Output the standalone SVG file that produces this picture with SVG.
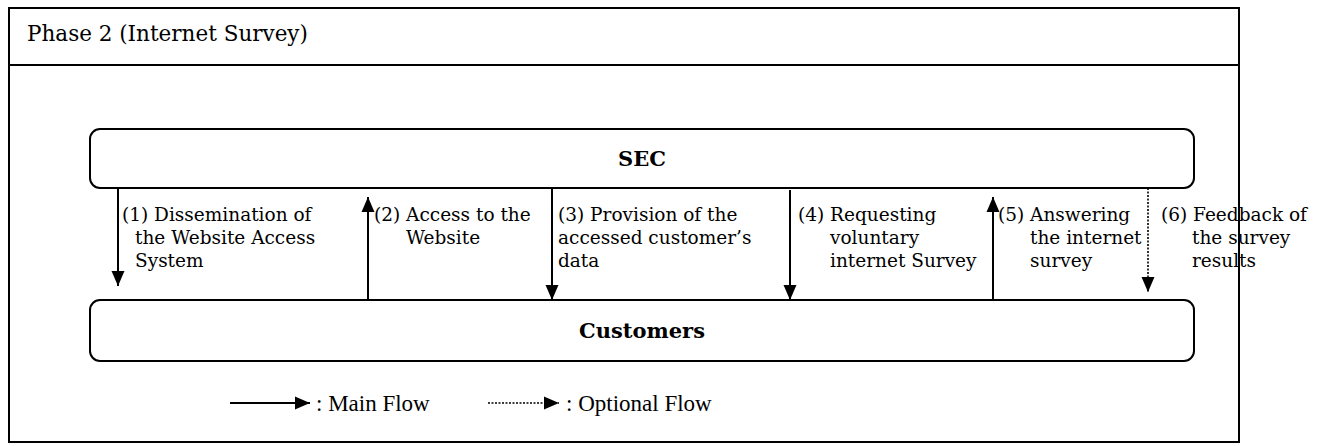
<svg xmlns="http://www.w3.org/2000/svg" width="1319" height="446" viewBox="0 0 1319 446">
  <style>
    .frame { fill: none; stroke: #000; stroke-width: 2; }
    .box { fill: #fff; stroke: #000; stroke-width: 2; }
    .title { font-family: "DejaVu Serif", "Liberation Serif", serif; font-size: 21.5px; fill: #000; }
    .name { font-family: "DejaVu Serif", "Liberation Serif", serif; font-size: 21px; font-weight: bold; fill: #000; text-anchor: middle; }
    .lbl { font-family: "DejaVu Serif", "Liberation Serif", serif; font-size: 18.5px; fill: #000; }
    .legend { font-family: "Liberation Serif", "Times New Roman", serif; font-size: 23px; fill: #000; }
    .main { stroke: #000; stroke-width: 2; fill: none; marker-end: url(#head); }
    .opt { stroke: #000; stroke-width: 1.6; stroke-dasharray: 2 1.5; fill: none; marker-end: url(#head); }
  </style>
  <defs>
    <marker id="head" markerUnits="userSpaceOnUse" markerWidth="15" markerHeight="14" viewBox="0 0 15 14" refX="15" refY="7" orient="auto">
      <path d="M0,0.5 L15,7 L0,13.5 Z" fill="#000"/>
    </marker>
  </defs>

  <!-- outer frame with title bar -->
  <g id="frame">
    <rect class="frame" x="9" y="8" width="1230" height="434"/>
    <line class="frame" x1="9" y1="65" x2="1239" y2="65"/>
    <text class="title" x="27" y="41">Phase 2 (Internet Survey)</text>
  </g>

  <g id="node-sec">
    <rect class="box" x="90" y="129" width="1104" height="59" rx="10"/>
    <text class="name" x="642" y="166">SEC</text>
  </g>

  <g id="node-customers">
    <rect class="box" x="90" y="300" width="1104" height="61" rx="10"/>
    <text class="name" x="642" y="338">Customers</text>
  </g>

  <g id="connectors">
    <line class="main" x1="118" y1="188" x2="118" y2="286"/>
    <line class="main" x1="368" y1="300" x2="368" y2="197"/>
    <line class="main" x1="552" y1="188" x2="552" y2="300"/>
    <line class="main" x1="790" y1="190" x2="790" y2="300"/>
    <line class="main" x1="993" y1="300" x2="993" y2="197"/>
    <line class="opt" x1="1148" y1="188" x2="1148" y2="292"/>
  </g>

  <g id="labels">
    <text class="lbl" x="122" y="221">(1) Dissemination of<tspan x="135" y="244">the Website Access</tspan><tspan x="135" y="267">System</tspan></text>
    <text class="lbl" x="374" y="221">(2) Access to the<tspan x="406" y="244">Website</tspan></text>
    <text class="lbl" x="558" y="221">(3) Provision of the<tspan x="558" y="244">accessed customer’s</tspan><tspan x="558" y="267">data</tspan></text>
    <text class="lbl" x="798" y="221">(4) Requesting<tspan x="830" y="244">voluntary</tspan><tspan x="830" y="267">internet Survey</tspan></text>
    <text class="lbl" x="998" y="221">(5) Answering<tspan x="1030" y="244">the internet</tspan><tspan x="1030" y="267">survey</tspan></text>
    <text class="lbl" x="1161" y="221">(6) Feedback of<tspan x="1192" y="244">the survey</tspan><tspan x="1192" y="267">results</tspan></text>
  </g>

  <g id="legend">
    <line class="main" x1="230" y1="403" x2="310" y2="403"/>
    <text class="legend" x="316" y="411">: Main Flow</text>
    <line class="opt" x1="488" y1="403" x2="559" y2="403"/>
    <text class="legend" x="566" y="411">: Optional Flow</text>
  </g>
</svg>
